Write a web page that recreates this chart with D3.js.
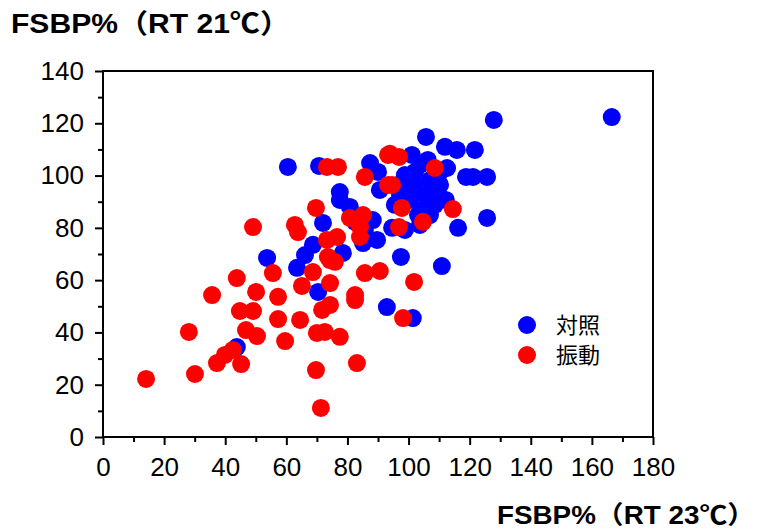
<!DOCTYPE html>
<html>
<head>
<meta charset="utf-8">
<script src="https://cdn.jsdelivr.net/npm/d3@7"></script>
<style>
  body { margin: 0; background: #fff; }
  svg { display: block; }
</style>
</head>
<body>
<div id="chart"></div>
<script>
// control group (対照): [RT 23℃, RT 21℃]
const controlPoints = [
  [166.5, 122.4], [127.9, 121.3], [105.7, 114.8], [111.9, 111.0], [115.8, 109.8],
  [121.7, 109.8], [101.1, 107.9], [112.6, 102.9], [118.8, 99.5], [121.1, 99.5],
  [125.7, 99.5], [110.3, 91.4], [125.7, 83.8], [116.2, 80.0], [110.9, 65.4],
  [97.5, 68.9], [92.9, 49.7], [101.4, 45.5], [60.5, 103.3], [70.7, 103.7],
  [77.5, 93.7], [77.5, 90.7], [80.8, 88.0], [72.0, 81.9], [88.3, 83.0],
  [89.7, 75.4], [85.1, 74.2], [68.7, 73.5], [53.7, 68.5], [78.5, 70.4],
  [66.1, 69.6], [63.5, 64.7], [70.4, 55.5], [43.8, 34.4], [87.4, 104.8],
  [90.0, 101.4], [90.6, 94.5], [98.8, 100.2], [102.1, 96.4], [103.7, 104.1],
  [105.4, 92.6], [107.0, 98.3], [108.6, 88.8], [100.5, 90.7], [103.1, 84.9],
  [110.3, 96.4], [107.0, 84.9], [106.3, 106.0], [97.2, 92.6], [103.7, 81.1],
  [98.8, 79.2], [95.5, 88.8], [94.6, 80.0], [82.5, 82.3], [85.7, 79.2],
  [101.1, 94.5], [107.7, 92.6], [104.4, 86.8], [110.3, 101.4], [102.1, 101.4],
  [96.5, 96.4], [112.2, 90.7]
];

// vibration group (振動): [RT 23℃, RT 21℃]
const vibrationPoints = [
  [14.1, 22.2], [28.1, 40.2], [30.1, 24.1], [35.7, 54.3], [43.8, 60.8],
  [44.8, 48.2], [49.1, 48.2], [46.8, 40.9], [50.4, 38.6], [37.3, 28.3],
  [39.9, 31.4], [42.5, 33.3], [45.2, 27.9], [50.1, 55.5], [57.3, 53.6],
  [55.6, 62.7], [57.3, 45.1], [59.6, 36.7], [64.5, 44.8], [65.1, 57.8],
  [68.7, 63.1], [74.3, 58.9], [71.7, 48.6], [74.3, 50.5], [70.0, 39.8],
  [72.6, 40.2], [77.5, 38.3], [69.7, 25.6], [71.3, 11.1], [73.3, 75.4],
  [76.6, 76.5], [74.3, 67.7], [75.9, 67.0], [49.1, 80.3], [62.8, 81.1],
  [63.8, 78.4], [85.7, 62.7], [90.6, 63.5], [82.5, 54.3], [82.5, 52.4],
  [98.2, 45.5], [101.8, 59.3], [83.1, 28.3], [73.3, 103.3], [76.9, 103.3],
  [85.7, 99.5], [93.3, 107.9], [93.3, 96.4], [69.7, 87.6], [80.8, 83.8],
  [85.1, 84.9], [84.1, 80.3], [84.1, 76.5], [93.9, 108.3], [96.9, 107.1],
  [108.6, 102.9], [94.6, 96.4], [97.8, 87.6], [114.5, 87.2], [104.7, 82.3],
  [96.9, 80.3], [73.6, 68.9]
];

const xTicks = [0, 20, 40, 60, 80, 100, 120, 140, 160, 180];
const yTicks = [0, 20, 40, 60, 80, 100, 120, 140];
const xMinorTicks = [10, 30, 50, 70, 90, 110, 130, 150, 170];
const yMinorTicks = [10, 30, 50, 70, 90, 110, 130];

const series = [
  { name: '対照', color: '#0000ff', points: controlPoints },
  { name: '振動', color: '#ff0000', points: vibrationPoints }
];

const yTitle = 'FSBP%（RT 21℃）';
const xTitle = 'FSBP%（RT 23℃）';

const width = 763;
const height = 531;
const plot = { left: 103, right: 653, top: 71, bottom: 437 };
const radius = 9;
const labelFont = '"Liberation Sans", Arial, sans-serif';
const titleFont = '"Liberation Sans", Arial, "Noto Sans CJK JP", sans-serif';

const svg = d3.select('#chart').append('svg')
  .attr('width', width)
  .attr('height', height);

const x = d3.scaleLinear().domain([0, 180]).range([plot.left, plot.right]);
const y = d3.scaleLinear().domain([0, 140]).range([plot.bottom, plot.top]);

// frame around the plot
svg.append('rect')
  .attr('x', plot.left)
  .attr('y', plot.top)
  .attr('width', plot.right - plot.left)
  .attr('height', plot.bottom - plot.top)
  .attr('fill', 'none')
  .attr('stroke', '#000')
  .attr('stroke-width', 2);

// x axis: major ticks with labels, then minor ticks
const xAxis = svg.append('g')
  .attr('transform', `translate(0,${plot.bottom})`)
  .call(d3.axisBottom(x).tickValues(xTicks).tickSize(8).tickPadding(13));
svg.append('g')
  .attr('transform', `translate(0,${plot.bottom})`)
  .call(d3.axisBottom(x).tickValues(xMinorTicks).tickSize(5).tickFormat(''));

const yAxis = svg.append('g')
  .attr('transform', `translate(${plot.left},0)`)
  .call(d3.axisLeft(y).tickValues(yTicks).tickSize(8).tickPadding(11));
svg.append('g')
  .attr('transform', `translate(${plot.left},0)`)
  .call(d3.axisLeft(y).tickValues(yMinorTicks).tickSize(5).tickFormat(''));

svg.selectAll('.domain').remove();
svg.selectAll('.tick line').attr('stroke', '#000').attr('stroke-width', 2);
xAxis.selectAll('text').attr('fill', '#000').style('font', `26px ${labelFont}`);
yAxis.selectAll('text').attr('fill', '#000').style('font', `26px ${labelFont}`);

// points: control first, vibration drawn on top
series.forEach((s) => {
  svg.append('g').selectAll('circle')
    .data(s.points)
    .join('circle')
    .attr('cx', d => x(d[0]))
    .attr('cy', d => y(d[1]))
    .attr('r', radius)
    .attr('fill', s.color);
});

// legend
const legend = svg.append('g').attr('transform', 'translate(527,325)');
series.forEach((s, i) => {
  const row = legend.append('g').attr('transform', `translate(0,${i * 30})`);
  row.append('circle').attr('r', radius).attr('fill', s.color);
  row.append('text')
    .attr('x', 29)
    .attr('dy', '0.36em')
    .style('font', '22px "Noto Sans CJK JP", sans-serif')
    .attr('fill', '#000')
    .text(s.name);
});

// titles
svg.append('text')
  .attr('x', 11)
  .attr('y', 33)
  .attr('textLength', 279)
  .attr('lengthAdjust', 'spacingAndGlyphs')
  .style('font', `bold 27px ${titleFont}`)
  .attr('fill', '#000')
  .text(yTitle);

svg.append('text')
  .attr('x', 497)
  .attr('y', 524)
  .attr('textLength', 258)
  .attr('lengthAdjust', 'spacingAndGlyphs')
  .style('font', `bold 25px ${titleFont}`)
  .attr('fill', '#000')
  .text(xTitle);
</script>
</body>
</html>
